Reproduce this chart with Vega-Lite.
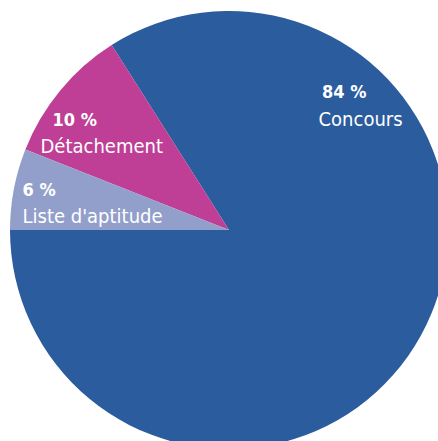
{
  "$schema": "https://vega.github.io/schema/vega-lite/v6.json",
  "autosize": "none",
  "width": 418,
  "height": 421,
  "padding": {"left": 20, "top": 19.5, "right": 0, "bottom": 0},
  "background": "white",
  "view": {"stroke": null},
  "data": {
    "values": [
      {"category": "Concours", "pct": 84, "pctLabel": "84 %"},
      {"category": "Détachement", "pct": 10, "pctLabel": "10 %"},
      {"category": "Liste d'aptitude", "pct": 6, "pctLabel": "6 %"}
    ]
  },
  "encoding": {
    "theta": {"field": "pct", "type": "quantitative", "stack": true, "scale": {"range": [4.712389, 10.995574]}},
    "order": {"field": "category", "sort": "descending"}
  },
  "layer": [
    {
      "mark": {"type": "arc", "radius": 219},
      "encoding": {
        "color": {
          "field": "category", "type": "nominal", "legend": null,
          "scale": {"domain": ["Concours", "Détachement", "Liste d'aptitude"], "range": ["#2B5C9E", "#BE3F95", "#939FCB"]}
        }
      }
    },
    {
      "mark": {"type": "text", "radius": 161.1, "thetaOffset": -1.4579, "align": "left", "baseline": "alphabetic", "font": "DejaVu Sans Condensed, Liberation Sans Narrow, DejaVu Sans", "fontSize": 18, "fontWeight": "bold", "fill": "white"},
      "encoding": {"text": {"condition": {"test": "datum.pct === 84", "field": "pctLabel"}, "value": ""}}
    },
    {
      "mark": {"type": "text", "radius": 161.1, "thetaOffset": -1.4579, "dx": -3.5, "dy": 27.2, "align": "left", "baseline": "alphabetic", "font": "DejaVu Sans Condensed, Liberation Sans Narrow, DejaVu Sans", "fontSize": 20, "fill": "white"},
      "encoding": {"text": {"condition": {"test": "datum.pct === 84", "field": "category"}, "value": ""}}
    },
    {
      "mark": {"type": "text", "radius": 205.0, "thetaOffset": -0.1574, "align": "left", "baseline": "alphabetic", "font": "DejaVu Sans Condensed, Liberation Sans Narrow, DejaVu Sans", "fontSize": 18, "fontWeight": "bold", "fill": "white"},
      "encoding": {"text": {"condition": {"test": "datum.pct === 10", "field": "pctLabel"}, "value": ""}}
    },
    {
      "mark": {"type": "text", "radius": 205.0, "thetaOffset": -0.1574, "dx": -12, "dy": 27.3, "align": "left", "baseline": "alphabetic", "font": "DejaVu Sans Condensed, Liberation Sans Narrow, DejaVu Sans", "fontSize": 20, "fill": "white"},
      "encoding": {"text": {"condition": {"test": "datum.pct === 10", "field": "category"}, "value": ""}}
    },
    {
      "mark": {"type": "text", "radius": 209.3, "thetaOffset": -0.0253, "align": "left", "baseline": "alphabetic", "font": "DejaVu Sans Condensed, Liberation Sans Narrow, DejaVu Sans", "fontSize": 18, "fontWeight": "bold", "fill": "white"},
      "encoding": {"text": {"condition": {"test": "datum.pct === 6", "field": "pctLabel"}, "value": ""}}
    },
    {
      "mark": {"type": "text", "radius": 209.3, "thetaOffset": -0.0253, "dx": 0, "dy": 26.7, "align": "left", "baseline": "alphabetic", "font": "DejaVu Sans Condensed, Liberation Sans Narrow, DejaVu Sans", "fontSize": 20, "fill": "white"},
      "encoding": {"text": {"condition": {"test": "datum.pct === 6", "field": "category"}, "value": ""}}
    }
  ]
}
